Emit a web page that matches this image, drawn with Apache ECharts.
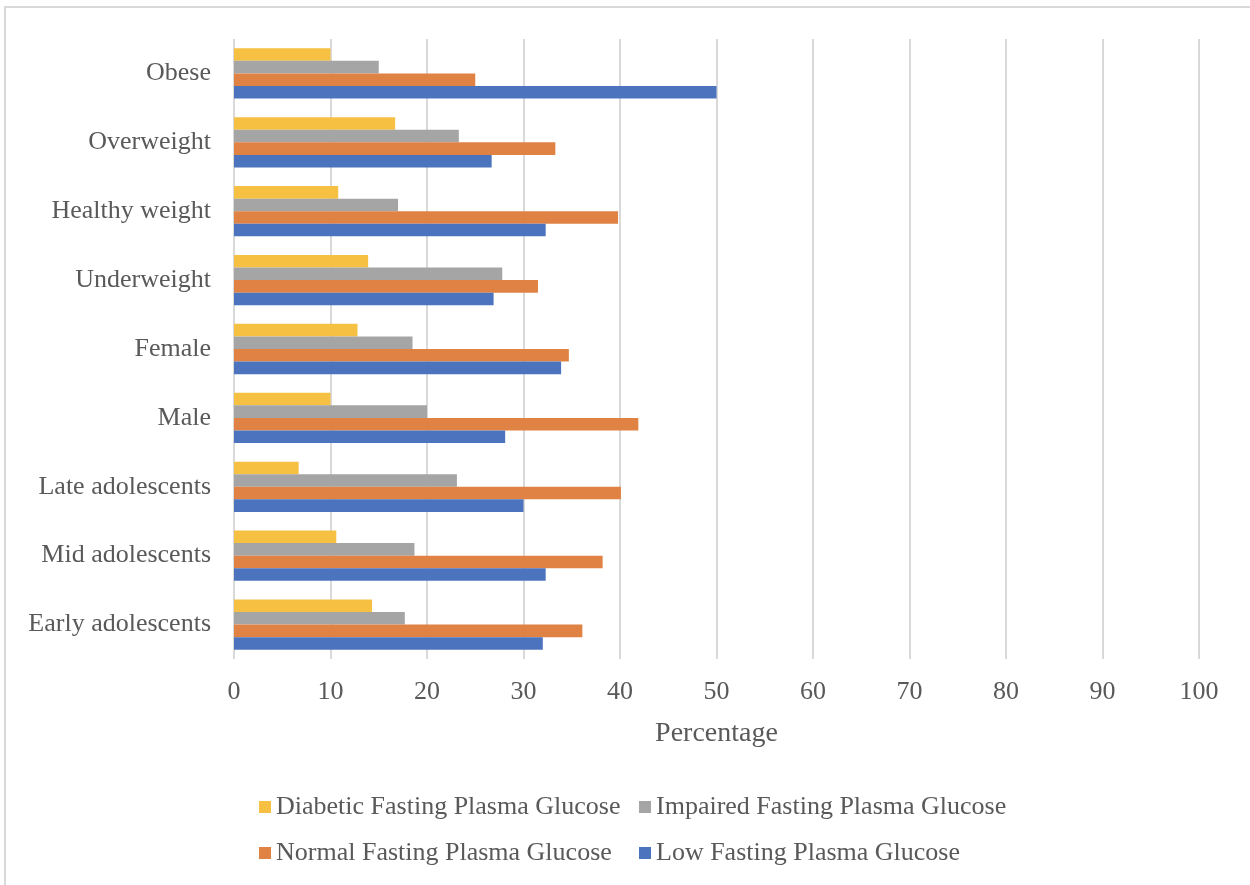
<!DOCTYPE html>
<html>
<head>
<meta charset="utf-8">
<script src="https://cdn.jsdelivr.net/npm/echarts@6/dist/echarts.min.js"></script>
<style>
  html, body { margin: 0; padding: 0; background: #ffffff; }
  #chart { width: 1250px; height: 885px; }
</style>
</head>
<body>
<div id="chart"></div>
<script>
// Groups, listed from top to bottom
const categories = ['Obese', 'Overweight', 'Healthy weight', 'Underweight', 'Female', 'Male',
  'Late adolescents', 'Mid adolescents', 'Early adolescents'];

// Share of each group (%) by fasting plasma glucose class
const diabetic = [10.0, 16.7, 10.8, 13.9, 12.8, 10.0, 6.7, 10.6, 14.3];
const impaired = [15.0, 23.3, 17.0, 27.8, 18.5, 20.0, 23.1, 18.7, 17.7];
const normal   = [25.0, 33.3, 39.8, 31.5, 34.7, 41.9, 40.1, 38.2, 36.1];
const low      = [50.0, 26.7, 32.3, 26.9, 33.9, 28.1, 30.0, 32.3, 32.0];

const seriesNames = ['Diabetic Fasting Plasma Glucose', 'Impaired Fasting Plasma Glucose',
  'Normal Fasting Plasma Glucose', 'Low Fasting Plasma Glucose'];
const xTicks = [0, 100, 10]; // min, max, step

const colors = ['#F6C143', '#A5A5A5', '#E08244', '#4C73BE'];
const values = [diabetic, impaired, normal, low];
const fontFamily = '"Liberation Serif", "Times New Roman", serif';
const textColor = '#595959';

const chart = echarts.init(document.getElementById('chart'), null, { renderer: 'canvas' });

const legendCommon = {
  orient: 'vertical',
  icon: 'rect',
  itemWidth: 12,
  itemHeight: 12,
  itemGap: 16,
  selectedMode: false,
  textStyle: { fontFamily, fontSize: 26, color: textColor, lineHeight: 30 }
};

chart.setOption({
  backgroundColor: '#ffffff',
  animation: false,
  color: colors,
  graphic: [{
    type: 'rect',
    shape: { x: 5, y: 7, width: 1400, height: 1000 },
    style: { fill: 'none', stroke: '#d9d9d9', lineWidth: 2 },
    silent: true
  }],
  grid: { left: 234, right: 51, top: 39, bottom: 226, containLabel: false },
  legend: [
    Object.assign({ left: 254, top: 787, data: [seriesNames[0], seriesNames[2]] }, legendCommon),
    Object.assign({ left: 634, top: 787, data: [seriesNames[1], seriesNames[3]] }, legendCommon)
  ],
  xAxis: {
    type: 'value',
    min: xTicks[0],
    max: xTicks[1],
    interval: xTicks[2],
    name: 'Percentage',
    nameLocation: 'middle',
    nameGap: 61,
    nameTextStyle: { fontFamily, fontSize: 28, color: textColor },
    axisLine: { show: false },
    axisTick: { show: false },
    axisLabel: { fontFamily, fontSize: 26, color: textColor, margin: 20 },
    splitLine: { show: true, lineStyle: { color: '#d9d9d9', width: 2 } }
  },
  yAxis: {
    type: 'category',
    data: categories,
    inverse: true,
    axisLine: { show: false },
    axisTick: { show: false },
    axisLabel: { fontFamily, fontSize: 26, color: textColor, margin: 23 },
    splitLine: { show: false }
  },
  series: seriesNames.map((name, i) => ({
    name,
    type: 'bar',
    data: values[i],
    barGap: '0%',
    barCategoryGap: '27%',
    itemStyle: { color: colors[i] }
  }))
});
</script>
</body>
</html>
